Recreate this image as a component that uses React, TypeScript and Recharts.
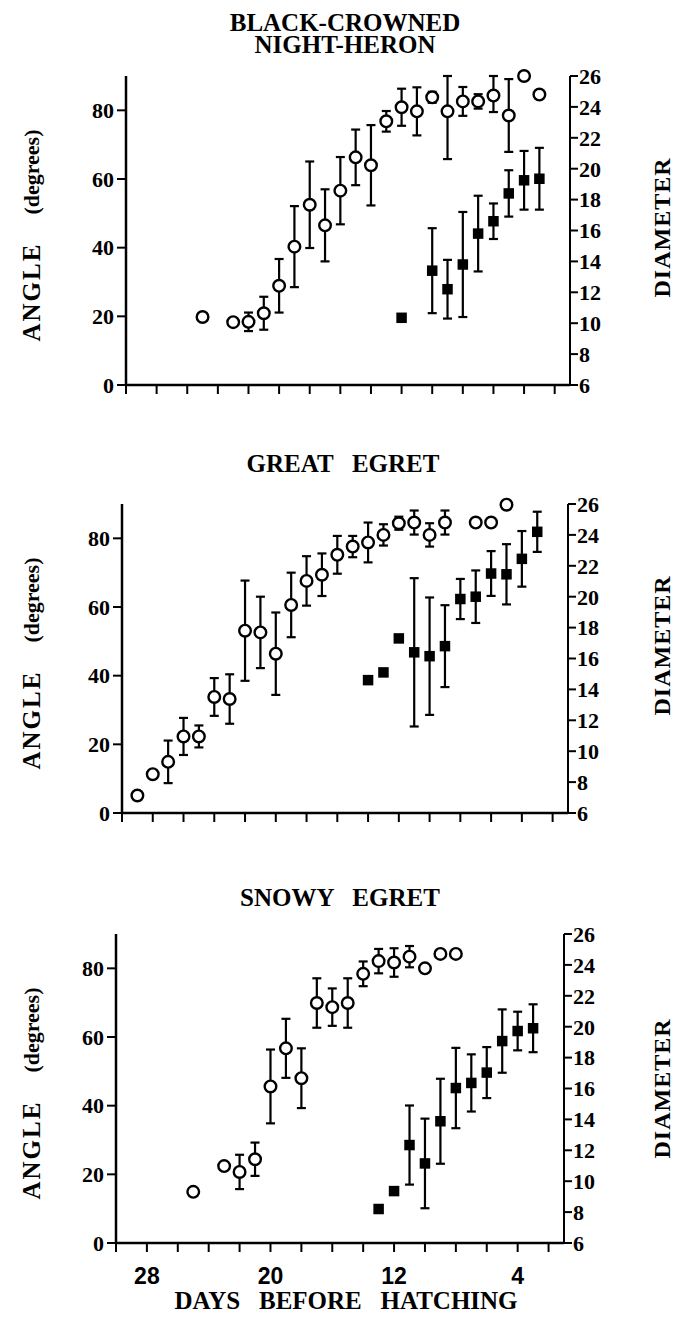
import { ErrorBar, Label, Scatter, ScatterChart, XAxis, YAxis } from "recharts";

// axis ticks
const dayTicks = [30, 28, 26, 24, 22, 20, 18, 16, 14, 12, 10, 8, 6, 4, 2];
const dayLabels = [28, 20, 12, 4];
const angleTicks = [0, 20, 40, 60, 80];
const diameterTicks = [6, 8, 10, 12, 14, 16, 18, 20, 22, 24, 26];

// black-crowned night-heron
const heronAngleDays = [25, 23, 22, 21, 20, 19, 18, 17, 16, 15, 14, 13, 12, 11, 10, 9, 8, 7, 6, 5, 4, 3];
const heronAngle = [19.8, 18.3, 18.4, 20.9, 28.9, 40.3, 52.5, 46.5, 56.6, 66.3, 64.0, 76.8, 80.9, 79.7, 83.8, 79.7, 82.6, 82.6, 84.3, 78.5, 90, 84.6];
const heronAngleErr = [0, 0, 2.7, 4.8, 7.8, 11.8, 12.6, 10.5, 9.8, 8.1, 11.7, 3.0, 5.4, 7.0, 1.6, [13.9, 10.3], 4.2, 2.1, [4.8, 5.7], 10.6, 0, 0];
const heronDiamDays = [12, 10, 9, 8, 7, 6, 5, 4, 3];
const heronDiam = [10.35, 13.4, 12.2, 13.8, 15.8, 16.6, 18.4, 19.25, 19.35];
const heronDiamErr = [0, 2.75, 1.9, 3.4, 2.45, 1.15, 1.5, 1.9, 2.0];

// great egret
const egretAngleDays = [29, 28, 27, 26, 25, 24, 23, 22, 21, 20, 19, 18, 17, 16, 15, 14, 13, 12, 11, 10, 9, 7, 6, 5];
const egretAngle = [5.1, 11.3, 14.9, 22.3, 22.3, 33.8, 33.2, 53.1, 52.6, 46.4, 60.6, 67.6, 69.4, 75.2, 77.6, 78.8, 81.0, 84.4, 84.6, 81.0, 84.6, 84.6, 84.6, 89.8];
const egretAngleErr = [0, 0, 6.2, 5.4, 3.2, 5.5, 7.2, 14.6, 10.4, 12.0, 9.4, 7.2, 6.2, 5.5, 3.1, 5.8, 3.1, 1.9, 3.5, 3.4, 3.5, 0, 0, 0];
const egretDiamDays = [14, 13, 12, 11, 10, 9, 8, 7, 6, 5, 4, 3];
const egretDiam = [14.6, 15.1, 17.3, 16.4, 16.15, 16.8, 19.85, 20.0, 21.5, 21.45, 22.45, 24.2];
const egretDiamErr = [0, 0, 0, 4.8, 3.8, 2.65, 1.3, 1.7, 1.45, 1.95, 1.8, 1.3];

// snowy egret
const snowyAngleDays = [25, 23, 22, 21, 20, 19, 18, 17, 16, 15, 14, 13, 12, 11, 10, 9, 8];
const snowyAngle = [14.9, 22.4, 20.7, 24.4, 45.6, 56.7, 48.0, 69.9, 68.7, 69.9, 78.4, 82.1, 81.7, 83.4, 80.0, 84.2, 84.2];
const snowyAngleErr = [0, 0, 5.0, 4.85, 10.75, 8.6, 8.7, 7.2, 5.45, 7.2, 3.6, 3.55, 4.15, 3.1, 0, 0, 0];
const snowyDiamDays = [13, 12, 11, 10, 9, 8, 7, 6, 5, 4, 3];
const snowyDiam = [8.2, 9.36, 12.34, 11.15, 13.88, 16.03, 16.36, 17.03, 19.07, 19.72, 19.9];
const snowyDiamErr = [0, 0, 2.56, 2.9, 2.75, 2.6, 1.85, 1.65, 2.05, 1.25, 1.55];

type Err = number | number[];

const toRows = (days: number[], values: number[], errs: Err[], key: string) =>
  days.map((day, i) => ({ day, [key]: values[i], err: errs[i] || undefined }));

const SERIF = '"Liberation Serif", "Times New Roman", serif';
const SANS = '"Liberation Sans", Arial, sans-serif';
const PLOT_H = 309;
const AXIS_H = 50;
const AXIS_W = 60;

const axisLine = { stroke: "#000", strokeWidth: 2.5 };
const tickLine = { stroke: "#000", strokeWidth: 2 };
const tickFont = { fill: "#000", fontSize: 22, fontFamily: SERIF, fontWeight: "bold" };

const openCircle = (p: any) => (
  <circle cx={p.cx} cy={p.cy} r={5.8} fill="#fff" stroke="#000" strokeWidth={2.4} />
);
const filledSquare = (p: any) => (
  <rect x={p.cx - 5.25} y={p.cy - 5.25} width={10.5} height={10.5} fill="#000" />
);

function DayTick(props: any) {
  const { x, y, payload, show } = props;
  if (!show || !dayLabels.includes(payload.value)) return <g />;
  return (
    <text x={x} y={y + 30} textAnchor="middle" fill="#000" fontSize={23} fontFamily={SANS} fontWeight="bold">
      {payload.value}
    </text>
  );
}

const angleTitle = (shift: number) => (props: any) => {
  const vb = props.viewBox;
  const cy = vb.y + vb.height / 2 + shift;
  return (
    <text
      transform={`translate(31, ${cy}) rotate(-90)`}
      textAnchor="middle"
      dominantBaseline="central"
      fill="#000"
      fontFamily={SERIF}
      fontWeight="bold"
    >
      <tspan fontSize={25} letterSpacing={2}>ANGLE</tspan>
      <tspan fontSize={22} dx={28}>(degrees)</tspan>
    </text>
  );
};

const diamTitle = (shift: number) => (props: any) => {
  const vb = props.viewBox;
  const cy = vb.y + vb.height / 2 + shift;
  return (
    <text
      transform={`translate(662, ${cy}) rotate(-90)`}
      textAnchor="middle"
      dominantBaseline="central"
      fill="#000"
      fontFamily={SERIF}
      fontWeight="bold"
      fontSize={24}
      letterSpacing={1}
    >
      DIAMETER
    </text>
  );
};

type PanelProps = {
  top: number;
  plotTop: number;
  plotLeft: number;
  plotRight: number;
  circles: any[];
  squares: any[];
  showDays?: boolean;
  diamShift?: number;
};

function Panel({ top, plotTop, plotLeft, plotRight, circles, squares, showDays, diamShift = 0 }: PanelProps) {
  const mTop = plotTop - top;
  const height = mTop + PLOT_H + AXIS_H;
  return (
    <div style={{ position: "absolute", left: 0, top }}>
      <ScatterChart
        width={678}
        height={height}
        margin={{ top: mTop, bottom: 0, left: plotLeft - AXIS_W, right: 678 - plotRight - AXIS_W }}
      >
        <XAxis
          type="number"
          dataKey="day"
          domain={[1, 30]}
          reversed
          ticks={dayTicks}
          interval={0}
          height={AXIS_H}
          tickSize={9}
          axisLine={axisLine}
          tickLine={tickLine}
          tick={<DayTick show={showDays} />}
        />
        <YAxis
          yAxisId="angle"
          type="number"
          dataKey="angle"
          domain={[0, 90]}
          ticks={angleTicks}
          interval={0}
          width={AXIS_W}
          tickSize={9}
          tickMargin={3}
          axisLine={axisLine}
          tickLine={tickLine}
          tick={tickFont}
        >
          <Label content={angleTitle(5)} />
        </YAxis>
        <YAxis
          yAxisId="diam"
          orientation="right"
          type="number"
          dataKey="diam"
          domain={[6, 26]}
          ticks={diameterTicks}
          interval={0}
          width={AXIS_W}
          tickSize={8}
          tickMargin={1}
          axisLine={{ stroke: "#000", strokeWidth: 2 }}
          tickLine={tickLine}
          tick={tickFont}
        >
          <Label content={diamTitle(diamShift)} />
        </YAxis>
        <Scatter data={circles} yAxisId="angle" dataKey="angle" shape={openCircle} isAnimationActive={false}>
          <ErrorBar dataKey="err" direction="y" width={4.5} stroke="#000" strokeWidth={2.2} isAnimationActive={false} />
        </Scatter>
        <Scatter data={squares} yAxisId="diam" dataKey="diam" shape={filledSquare} isAnimationActive={false}>
          <ErrorBar dataKey="err" direction="y" width={4.5} stroke="#000" strokeWidth={2.2} isAnimationActive={false} />
        </Scatter>
      </ScatterChart>
    </div>
  );
}

const titleStyle = (top: number, center: number): React.CSSProperties => ({
  position: "absolute",
  top,
  left: center - 300,
  width: 600,
  textAlign: "center",
  fontFamily: SERIF,
  fontWeight: "bold",
  fontSize: 25,
  lineHeight: "22px",
  whiteSpace: "pre",
  color: "#000",
});

export default function App() {
  return (
    <div style={{ position: "absolute", left: 0, top: 0, width: 678, height: 1317, background: "#fff", overflow: "hidden" }}>
      <div style={titleStyle(12, 345)}>{"BLACK-CROWNED\nNIGHT-HERON"}</div>
      <Panel
        top={50}
        plotTop={76}
        plotLeft={126}
        plotRight={570}
        circles={toRows(heronAngleDays, heronAngle, heronAngleErr, "angle")}
        squares={toRows(heronDiamDays, heronDiam, heronDiamErr, "diam")}
        diamShift={-3}
      />
      <div style={titleStyle(453, 343)}>{"GREAT   EGRET"}</div>
      <Panel
        top={485}
        plotTop={504}
        plotLeft={122}
        plotRight={568}
        circles={toRows(egretAngleDays, egretAngle, egretAngleErr, "angle")}
        squares={toRows(egretDiamDays, egretDiam, egretDiamErr, "diam")}
        diamShift={-13}
      />
      <div style={titleStyle(887, 340)}>{"SNOWY   EGRET"}</div>
      <Panel
        top={915}
        plotTop={934}
        plotLeft={116}
        plotRight={564}
        circles={toRows(snowyAngleDays, snowyAngle, snowyAngleErr, "angle")}
        squares={toRows(snowyDiamDays, snowyDiam, snowyDiamErr, "diam")}
        showDays
      />
      <div
        style={{
          position: "absolute",
          top: 1290,
          left: 46,
          width: 600,
          textAlign: "center",
          fontFamily: SERIF,
          fontWeight: "bold",
          fontSize: 25,
          lineHeight: "22px",
          whiteSpace: "pre",
          color: "#000",
        }}
      >
        {"DAYS   BEFORE   HATCHING"}
      </div>
    </div>
  );
}
